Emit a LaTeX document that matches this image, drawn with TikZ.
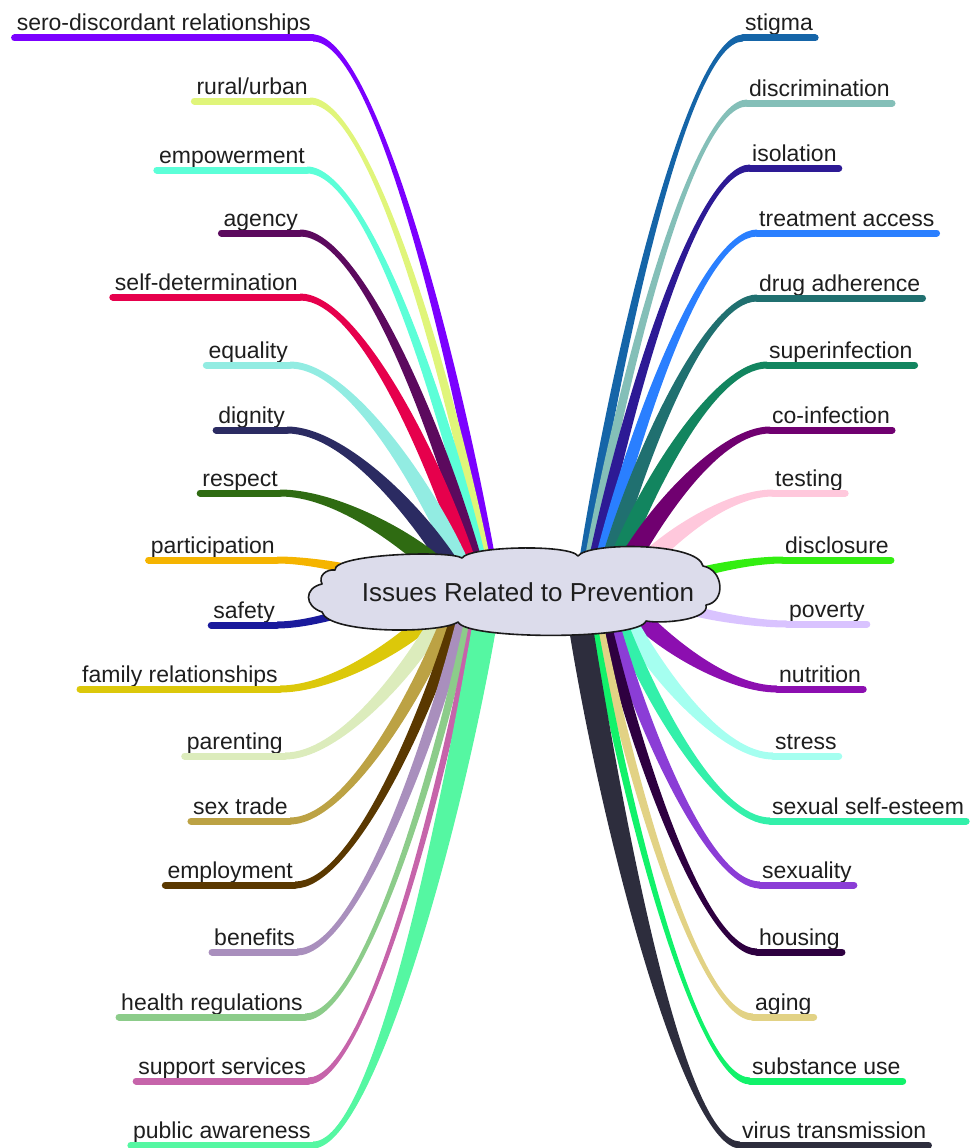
\documentclass[tikz,border=0pt]{standalone}
\usepackage{fontspec}
\setmainfont{Liberation Sans}
\usetikzlibrary{calc}
\definecolor{labelgray}{HTML}{1E1E1E}
\definecolor{cloudfill}{HTML}{DCDCEB}
\definecolor{cloudline}{HTML}{1A1A1A}
\tikzset{
  lbl/.style={font=\fontsize{23}{27}\selectfont, text=labelgray, inner xsep=2pt, inner ysep=0pt},
  hubtext/.style={font=\fontsize{26}{30}\selectfont, text=labelgray, inner sep=0pt},
  cloudshape/.style={fill=cloudfill, draw=cloudline, line width=1.6pt, line join=round},
  underline/.style={line width=7pt, line cap=round},
}
% #1 name, #2 hex colour, #3 side L/R, #4 curve end x,y, #5 start x,y, #6 half start width, #7 text
\newcommand\mmbranch[7]{%
  \definecolor{col#1}{HTML}{#2}%
  \ifx L#3
    \node[lbl, anchor=base east] (#1) at ([yshift=7pt]#4) {#7};
    \coordinate (#1E) at ([yshift=-7pt]#1.base east);
    \coordinate (#1U) at ([yshift=-7pt]#1.base west);
  \else
    \node[lbl, anchor=base west] (#1) at ([yshift=7pt]#4) {#7};
    \coordinate (#1E) at ([yshift=-7pt]#1.base west);
    \coordinate (#1U) at ([yshift=-7pt]#1.base east);
  \fi
  \coordinate (#1S) at (#5);
  \coordinate (#1P) at ($(#1S)!0.22!(#1E)$);
  \coordinate (#1Q) at ($(#1S)!0.42!(#1E)$);
  \coordinate (#1C) at (#1P |- #1Q);
  \coordinate (#1R) at ($(#1E)!0.34!(#1S)$);
  \coordinate (#1D) at (#1R |- #1E);
  \fill[col#1] ($(#1S)!#6pt!90:(#1C)$) .. controls ($(#1C)!#6pt!-90:(#1S)$) and ($(#1D)!3.5pt!90:(#1E)$) .. ($(#1E)!3.5pt!-90:(#1D)$)
    -- ($(#1E)!3.5pt!90:(#1D)$) .. controls ($(#1D)!3.5pt!-90:(#1E)$) and ($(#1C)!#6pt!90:(#1S)$) .. ($(#1S)!#6pt!-90:(#1C)$) -- cycle;
  \draw[col#1, underline] (#1E) -- (#1U);
}
\begin{document}
\begin{tikzpicture}[x=1pt, y=-1pt]
\useasboundingbox (0,0) rectangle (969,1148);
% left side
\mmbranch{la}{7B00FF}{L}{313,38}{492,568}{5}{sero-discordant relationships}
\mmbranch{lb}{E0F57A}{L}{310,101}{487,568}{5}{rural/urban}
\mmbranch{lc}{5CFFD8}{L}{307,170}{482,568}{6}{empowerment}
\mmbranch{ld}{5C0A5E}{L}{300,233}{477,568}{7}{agency}
\mmbranch{le}{E6004C}{L}{300,297}{470,568}{8}{self-determination}
\mmbranch{lf}{92ECE2}{L}{290,365}{462,568}{9}{equality}
\mmbranch{lg}{2B2B62}{L}{287,430}{452,568}{9}{dignity}
\mmbranch{lh}{2F6B12}{L}{280,493}{438,568}{10}{respect}
\mmbranch{li}{F5B400}{L}{277,560}{360,572}{5}{participation}
\mmbranch{lj}{1A1A9C}{L}{277,625}{345,612}{4}{safety}
\mmbranch{lk}{DCC80A}{L}{280,689}{425,622}{8}{family relationships}
\mmbranch{ll}{DCECBC}{L}{285,756}{437,622}{8}{parenting}
\mmbranch{lm}{BCA244}{L}{290,821}{447,622}{7}{sex trade}
\mmbranch{ln}{5A3800}{L}{295,885}{455,622}{6}{employment}
\mmbranch{lo}{A98FBD}{L}{297,952}{462,622}{6}{benefits}
\mmbranch{lp}{8CCC8A}{L}{305,1017}{468,622}{4}{health regulations}
\mmbranch{lq}{C664AA}{L}{308,1081}{473,622}{3.5}{support services}
\mmbranch{lr}{55F7A2}{L}{313,1145}{485,622}{12}{public awareness}
% right side
\mmbranch{ra}{1565A8}{R}{743,38}{583,568}{5}{stigma}
\mmbranch{rb}{84BFB8}{R}{747,103}{588,568}{5}{discrimination}
\mmbranch{rc}{2D1A95}{R}{750,168}{593,568}{6}{isolation}
\mmbranch{rd}{2A7FFF}{R}{757,233}{600,568}{7}{treatment access}
\mmbranch{re}{207070}{R}{757,298}{607,568}{8}{drug adherence}
\mmbranch{rf}{12855F}{R}{767,365}{615,568}{9}{superinfection}
\mmbranch{rg}{700070}{R}{770,430}{625,568}{10}{co-infection}
\mmbranch{rh}{FFC8DC}{R}{773,493}{640,568}{9}{testing}
\mmbranch{ri}{33EE11}{R}{783,560}{690,575}{5}{disclosure}
\mmbranch{rj}{D9C3FF}{R}{787,624}{690,610}{5}{poverty}
\mmbranch{rk}{8C0FB0}{R}{777,689}{640,618}{9}{nutrition}
\mmbranch{rl}{A5FFF0}{R}{773,756}{628,622}{9}{stress}
\mmbranch{rm}{33F0AA}{R}{770,821}{620,622}{7}{sexual self-esteem}
\mmbranch{rn}{8B3DD6}{R}{760,885}{612,622}{7}{sexuality}
\mmbranch{ro}{2E0040}{R}{757,952}{605,622}{6}{housing}
\mmbranch{rp}{E2D285}{R}{753,1017}{598,622}{5}{aging}
\mmbranch{rq}{11F26A}{R}{750,1081}{593,622}{4}{substance use}
\mmbranch{rr}{2D2D3D}{R}{740,1145}{580,622}{12}{virus transmission}
% central cloud
\path[cloudshape] (335,570) .. controls (333,554) and (450,550) .. (462,558)
 .. controls (470,546) and (570,544) .. (578,556)
 .. controls (588,542) and (698,542) .. (703,566)
 .. controls (724,570) and (726,602) .. (706,605)
 .. controls (710,620) and (662,624) .. (646,621)
 .. controls (640,640) and (466,640) .. (458,622)
 .. controls (440,634) and (328,634) .. (322,612)
 .. controls (304,606) and (304,588) .. (322,584)
 .. controls (318,576) and (326,569) .. (335,570) -- cycle;
\node[hubtext] (hub) at (528,592) {Issues Related to Prevention};
\end{tikzpicture}
\end{document}
